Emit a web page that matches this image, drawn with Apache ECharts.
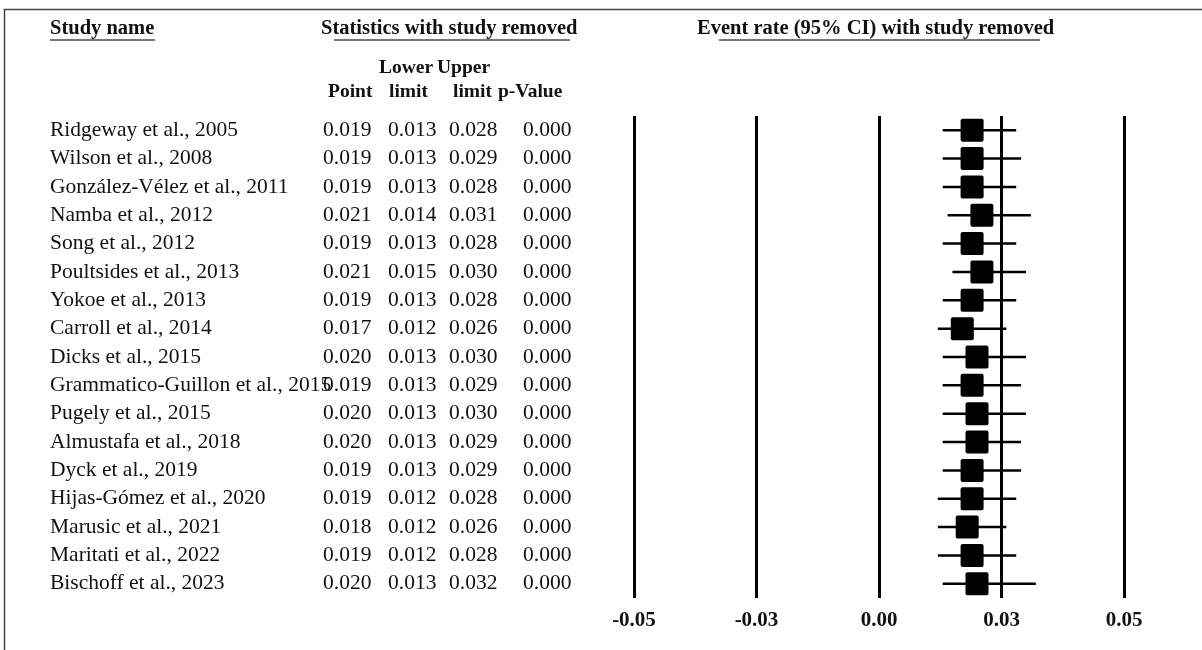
<!DOCTYPE html>
<html>
<head>
<meta charset="utf-8">
<script src="https://cdn.jsdelivr.net/npm/echarts@6/dist/echarts.min.js"></script>
<style>
  html, body { margin: 0; padding: 0; background: #fff; }
  #main { width: 1202px; height: 650px; }
</style>
</head>
<body>
<div id="main"></div>
<script>
  // study rows (top to bottom)
  var studies = [
    'Ridgeway et al., 2005', 'Wilson et al., 2008', 'González-Vélez et al., 2011',
    'Namba et al., 2012', 'Song et al., 2012', 'Poultsides et al., 2013',
    'Yokoe et al., 2013', 'Carroll et al., 2014', 'Dicks et al., 2015',
    'Grammatico-Guillon et al., 2015', 'Pugely et al., 2015', 'Almustafa et al., 2018',
    'Dyck et al., 2019', 'Hijas-Gómez et al., 2020', 'Marusic et al., 2021',
    'Maritati et al., 2022', 'Bischoff et al., 2023'
  ];
  var pointVals = [0.019, 0.019, 0.019, 0.021, 0.019, 0.021, 0.019, 0.017, 0.020, 0.019, 0.020, 0.020, 0.019, 0.019, 0.018, 0.019, 0.020];
  var lowerVals = [0.013, 0.013, 0.013, 0.014, 0.013, 0.015, 0.013, 0.012, 0.013, 0.013, 0.013, 0.013, 0.013, 0.012, 0.012, 0.012, 0.013];
  var upperVals = [0.028, 0.029, 0.028, 0.031, 0.028, 0.030, 0.028, 0.026, 0.030, 0.029, 0.030, 0.029, 0.029, 0.028, 0.026, 0.028, 0.032];
  var pVals = [0.000, 0.000, 0.000, 0.000, 0.000, 0.000, 0.000, 0.000, 0.000, 0.000, 0.000, 0.000, 0.000, 0.000, 0.000, 0.000, 0.000];
  var tickLabels = ['-0.05', '-0.03', '0.00', '0.03', '0.05'];

  var serif = '"Liberation Serif", "Times New Roman", serif';
  var fmt3 = function (v) { return v.toFixed(3); };

  // forest rows: [point, lower, upper, rowIndex]
  var forestData = pointVals.map(function (p, i) {
    return [p, lowerVals[i], upperVals[i], i];
  });

  function renderItem(params, api) {
    var row = api.value(3);
    var c = api.coord([api.value(0), row]);
    var lo = api.coord([api.value(1), row]);
    var hi = api.coord([api.value(2), row]);
    var s = 23;
    return {
      type: 'group',
      children: [
        { type: 'line', shape: { x1: lo[0], y1: c[1], x2: hi[0], y2: c[1] }, style: { stroke: '#000', lineWidth: 2.5 } },
        { type: 'rect', shape: { x: c[0] - s / 2, y: c[1] - s / 2, width: s, height: s, r: 2 }, style: { fill: '#000' } }
      ]
    };
  }

  // one category y axis per table column, all sharing the plot grid rows
  function columnAxis(list, x) {
    return {
      type: 'category',
      data: list,
      inverse: true,
      position: 'left',
      offset: 634 - x,
      axisLine: { show: false },
      axisTick: { show: false },
      splitLine: { show: false },
      axisLabel: {
        interval: 0, align: 'left', margin: 0, padding: [4, 0, 0, 0],
        fontFamily: serif, fontSize: 21.5, color: '#111'
      }
    };
  }

  function headText(text, x, y, size) {
    return {
      type: 'text', left: x, top: y,
      style: { text: text, fontFamily: serif, fontSize: size || 20.5, fontWeight: 'bold', fill: '#111' }
    };
  }
  function underline(x1, x2, y) {
    return { type: 'line', shape: { x1: x1, y1: y, x2: x2, y2: y }, style: { stroke: '#777', lineWidth: 2 } };
  }

  var myChart = echarts.init(document.getElementById('main'));
  var options = {
    animation: false,
    backgroundColor: '#fff',
    grid: { left: 634, right: 78, top: 116, bottom: 52 },
    xAxis: {
      type: 'value',
      min: -0.05, max: 0.05, interval: 0.025,
      axisLine: { show: false },
      axisTick: { show: false },
      splitLine: { show: true, showMinLine: true, showMaxLine: true, lineStyle: { color: '#000', width: 3 } },
      axisLabel: {
        margin: 12,
        fontFamily: serif, fontSize: 21, fontWeight: 'bold', color: '#111',
        formatter: function (v, i) { return tickLabels[i]; }
      }
    },
    yAxis: [
      columnAxis(studies, 50),
      columnAxis(pointVals.map(fmt3), 323),
      columnAxis(lowerVals.map(fmt3), 388),
      columnAxis(upperVals.map(fmt3), 449),
      columnAxis(pVals.map(fmt3), 523)
    ],
    series: [{
      type: 'custom',
      renderItem: renderItem,
      xAxisIndex: 0,
      yAxisIndex: 0,
      encode: { x: [0, 1, 2], y: 3 },
      data: forestData
    }],
    graphic: [
      // frame
      { type: 'polyline', shape: { points: [[4.5, 650], [4.5, 9.5], [1202, 9.5]] }, style: { stroke: '#444', lineWidth: 1.5, fill: null } },
      headText('Study name', 50, 18), underline(50, 155, 40),
      headText('Statistics with study removed', 321, 18), underline(334, 570, 40),
      headText('Event rate (95% CI) with study removed', 697, 18), underline(719, 1040, 40),
      headText('Lower', 379, 58, 19.5), headText('Upper', 437, 58, 19.5),
      headText('Point', 328, 82, 19.5), headText('limit', 389, 82, 19.5),
      headText('limit', 453, 82, 19.5), headText('p-Value', 498, 82, 19.5)
    ]
  };
  myChart.setOption(options);
</script>
</body>
</html>
